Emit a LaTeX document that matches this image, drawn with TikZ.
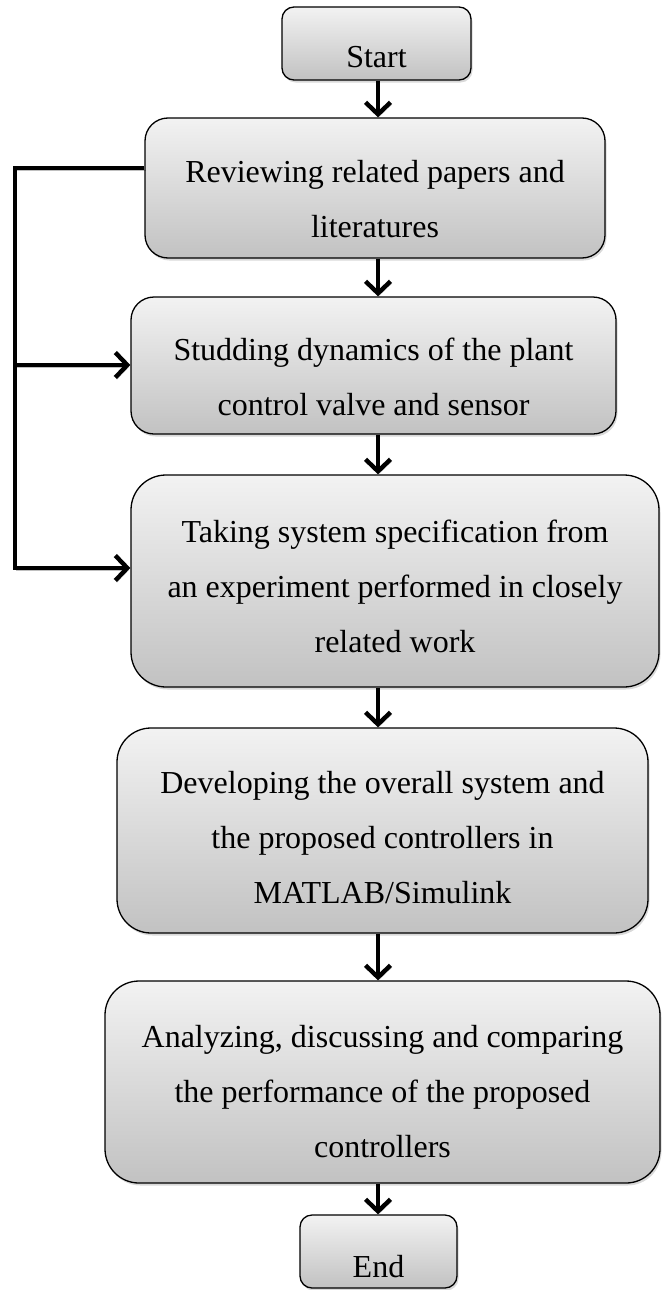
\documentclass[tikz,border=0pt]{standalone}
\usepackage{fontspec}
\setmainfont{Liberation Serif}
\usetikzlibrary{arrows.meta,shadows}
\begin{document}
\begin{tikzpicture}[x=1pt,y=-1pt,
  stepbox/.style={draw=black, line width=1.3pt, inner sep=0pt,
    top color=gray!10, bottom color=gray!48,
    drop shadow={shadow xshift=1.5pt, shadow yshift=-2.5pt, opacity=0.3}},
  steptext/.style={align=center, inner sep=0pt, anchor=base,
    font=\fontsize{32}{55}\selectfont},
  flow/.style={line width=4.4pt, line join=miter,
    -{Straight Barb[length=12pt,width=25pt]},
    preaction={draw=black, opacity=0.25,
      transform canvas={shift={(1.5pt,-2pt)}}}},
]
\useasboundingbox (0,0) rectangle (662,1290);

% process boxes
\node[stepbox, minimum width=189pt, minimum height=73pt, rounded corners=12pt] (start) at (376.5,43.5) {};
\node[stepbox, minimum width=460pt, minimum height=140pt, rounded corners=23pt] (review) at (375,188) {};
\node[stepbox, minimum width=485pt, minimum height=137pt, rounded corners=23pt] (studding) at (373.5,365.5) {};
\node[stepbox, minimum width=528pt, minimum height=212pt, rounded corners=35pt] (taking) at (395,581) {};
\node[stepbox, minimum width=531pt, minimum height=205pt, rounded corners=34pt] (developing) at (382.5,830.5) {};
\node[stepbox, minimum width=555pt, minimum height=202pt, rounded corners=34pt] (analyzing) at (382.5,1082) {};
\node[stepbox, minimum width=157pt, minimum height=73pt, rounded corners=12pt] (end) at (378.5,1251.5) {};

% box texts (anchored at the baseline of the last line)
\node[steptext] (start-t) at (376.5,67) {Start};
\node[steptext] (review-t) at (375,237) {Reviewing related papers and\\literatures};
\node[steptext] (studding-t) at (373.5,415) {Studding dynamics of the plant\\control valve and sensor};
\node[steptext] (taking-t) at (395,652) {Taking system specification from\\an experiment performed in closely\\related work};
\node[steptext] (developing-t) at (382.5,903) {Developing the overall system and\\the proposed controllers in\\MATLAB/Simulink};
\node[steptext] (analyzing-t) at (382.5,1157) {Analyzing, discussing and comparing\\the performance of the proposed\\controllers};
\node[steptext] (end-t) at (378.5,1277) {End};

% main flow
\coordinate (spine) at (378,0);
\draw[flow] (spine |- start.south) -- (spine |- review.north);
\draw[flow] (spine |- review.south) -- (spine |- studding.north);
\draw[flow] (spine |- studding.south) -- (spine |- taking.north);
\draw[flow] (spine |- taking.south) -- (spine |- developing.north);
\draw[flow] (spine |- developing.south) -- (spine |- analyzing.north);
\draw[flow] (spine |- analyzing.south) -- (spine |- end.north);

% feedback loop on the left
\coordinate (fbtop) at (15,168);
\coordinate (fbmid) at (15,365);
\coordinate (fbbot) at (15,568);
\draw[flow] (review.west |- fbtop) -- (fbtop) -- (fbbot) -- (taking.west |- fbbot);
\draw[flow] (fbmid) -- (studding.west |- fbmid);
\end{tikzpicture}
\end{document}
